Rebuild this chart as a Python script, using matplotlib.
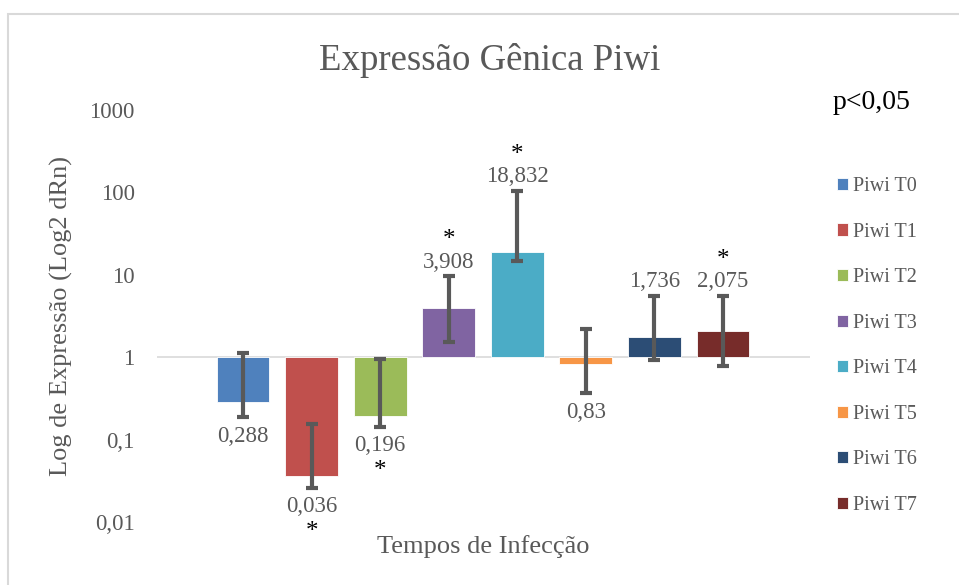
import matplotlib
matplotlib.use("Agg")
import matplotlib.pyplot as plt
import matplotlib.patches as patches
from matplotlib.ticker import FixedLocator, FuncFormatter, NullLocator

plt.rcParams['font.family'] = ['Liberation Serif', 'DejaVu Serif']

# --- data ---
series = ['Piwi T0', 'Piwi T1', 'Piwi T2', 'Piwi T3',
          'Piwi T4', 'Piwi T5', 'Piwi T6', 'Piwi T7']
values = [0.288, 0.036, 0.196, 3.908, 18.832, 0.83, 1.736, 2.075]
err_low = [0.186, 0.026, 0.143, 1.52, 14.6, 0.363, 0.92, 0.79]
err_high = [1.13, 0.154, 0.94, 9.6, 104, 2.18, 5.59, 5.59]
significant = [False, True, True, True, True, False, False, True]
colors = ['#4F81BD', '#C0504D', '#9BBB59', '#8064A2',
          '#4BACC6', '#F79646', '#2C4D75', '#772C2A']
y_ticks = [0.01, 0.1, 1, 10, 100, 1000]

grey = '#595959'

fig = plt.figure(figsize=(9.59, 5.85), dpi=100)
ax = fig.add_axes([157 / 959, 1 - 522 / 585, (810 - 157) / 959, (522 - 110) / 585])

# outer chart frame (Excel chart area border)
fig.patches.append(patches.Rectangle((8 / 959, -0.2), 2, 1.2 - 14 / 585,
                                     transform=fig.transFigure, fill=False,
                                     edgecolor='#D9D9D9', linewidth=1.5))

x = list(range(len(values)))
heights = [v - 1 for v in values]
bars = ax.bar(x, heights, bottom=1, width=0.77, color=colors,
              edgecolor='white', linewidth=0.6, zorder=2)
for b, lab in zip(bars, series):
    b.set_label(lab)

yerr = [[v - lo for v, lo in zip(values, err_low)],
        [hi - v for v, hi in zip(values, err_high)]]
ax.errorbar(x, values, yerr=yerr, fmt='none', ecolor=grey, elinewidth=3,
            capsize=4, capthick=3, zorder=3)

ax.set_yscale('log')
ax.set_ylim(0.01, 1000)
ax.set_xlim(-1.254, 8.269)
ax.yaxis.set_major_locator(FixedLocator(y_ticks))
ax.yaxis.set_minor_locator(NullLocator())
ax.yaxis.set_major_formatter(FuncFormatter(lambda v, p: f"{v:g}".replace('.', ',')))
ax.set_xticks([])
ax.tick_params(axis='y', length=0, pad=16, labelsize=16.5, labelcolor=grey)
for s in ax.spines.values():
    s.set_visible(False)
ax.axhline(1, color='#D9D9D9', linewidth=1.2, zorder=1)

# value labels and significance marks
for xi, v, lo, hi, sig in zip(x, values, err_low, err_high, significant):
    txt = f"{v:g}".replace('.', ',')
    if v >= 1:
        ax.annotate(txt, (xi, hi), xytext=(0, 14), textcoords='offset pixels',
                    ha='center', va='center', fontsize=16.5, color=grey)
        if sig:
            ax.annotate('*', (xi, hi), xytext=(0, 36), textcoords='offset pixels',
                        ha='center', va='center', fontsize=18, color='black')
    else:
        ax.annotate(txt, (xi, lo), xytext=(0, -19), textcoords='offset pixels',
                    ha='center', va='center', fontsize=16.5, color=grey)
        if sig:
            ax.annotate('*', (xi, lo), xytext=(0, -44), textcoords='offset pixels',
                        ha='center', va='center', fontsize=18, color='black')

fig.text(490 / 959, 1 - 70 / 585, 'Expressão Gênica Piwi', ha='center',
         va='baseline', fontsize=26.5, color=grey)
fig.text(833 / 959, 1 - 109 / 585, 'p<0,05', ha='left', va='baseline',
         fontsize=20, color='black')
fig.text(483 / 959, 1 - 553 / 585, 'Tempos de Infecção', ha='center',
         va='baseline', fontsize=19, color=grey)
fig.text(61 / 959, 1 - 316 / 585, 'Log de Expressão (Log2 dRn)', ha='center',
         va='center', rotation=90, fontsize=19, color=grey)

ax.legend(loc='upper left', bbox_to_anchor=(837 / 959, 1 - 177 / 585),
          bbox_transform=fig.transFigure, frameon=False, fontsize=14.5,
          labelcolor=grey, handlelength=0.55, handleheight=0.55,
          handletextpad=0.25, labelspacing=1.32, borderpad=0, borderaxespad=0)

fig.savefig('out.png', dpi=100)
